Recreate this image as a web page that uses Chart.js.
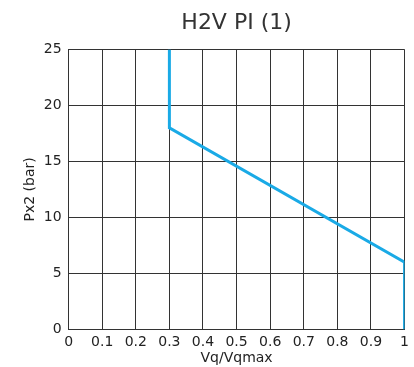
<!DOCTYPE html>
<html>
<head>
<meta charset="utf-8">
<script src="https://cdn.jsdelivr.net/npm/chart.js@4"></script>
<style>
  html, body { margin: 0; padding: 0; background: #fff; }
  #wrap { width: 414px; height: 367px; }
</style>
</head>
<body>
<div id="wrap"><canvas id="chart"></canvas></div>
<script>
const xValues = [0.3, 0.3, 1, 1];
const yValues = [25, 18, 6, 0];

const points = xValues.map((x, i) => ({ x: x, y: yValues[i] }));

new Chart(document.getElementById('chart'), {
    type: 'scatter',
    data: {
        datasets: [{
            data: points,
            showLine: true,
            borderColor: '#1aaae6',
            borderWidth: 3,
            pointRadius: 0,
            tension: 0
        }]
    },
    options: {
        responsive: true,
        maintainAspectRatio: false,
        animation: false,
        layout: { padding: { left: 22, right: 4, top: 4, bottom: 0 } },
        plugins: {
            legend: { display: false },
            tooltip: { enabled: false },
            title: {
                display: true,
                text: 'H2V PI (1)',
                fullSize: false,
                color: '#333',
                font: { family: 'DejaVu Sans', size: 22, weight: 'normal' },
                padding: { top: 6, bottom: 13 }
            }
        },
        scales: {
            x: {
                type: 'linear',
                min: 0,
                max: 1,
                ticks: {
                    stepSize: 0.1,
                    color: '#222',
                    font: { family: 'DejaVu Sans', size: 14 },
                    padding: 5,
                    maxRotation: 0,
                    callback: v => String(Math.round(v * 10) / 10)
                },
                grid: { color: '#333', lineWidth: 1, drawTicks: false },
                border: { color: '#333', width: 1 },
                title: {
                    display: true,
                    text: 'Vq/Vqmax',
                    color: '#222',
                    font: { family: 'DejaVu Sans', size: 14 },
                    padding: { top: -6, bottom: 0 }
                }
            },
            y: {
                min: 0,
                max: 25,
                ticks: {
                    stepSize: 5,
                    color: '#222',
                    font: { family: 'DejaVu Sans', size: 14 },
                    padding: 7
                },
                grid: { color: '#333', lineWidth: 1, drawTicks: false },
                border: { color: '#333', width: 1 },
                title: {
                    display: true,
                    text: 'Px2 (bar)',
                    color: '#222',
                    font: { family: 'DejaVu Sans', size: 14 },
                    padding: { top: 0, bottom: -2 }
                }
            }
        }
    }
});
</script>
</body>
</html>
